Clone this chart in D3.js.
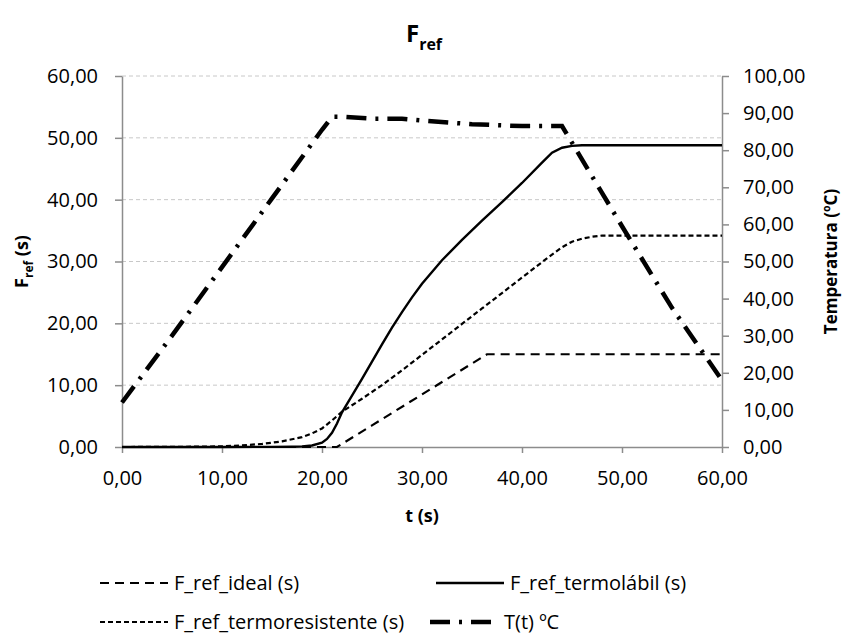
<!DOCTYPE html>
<html>
<head>
<meta charset="utf-8">
<script src="https://cdn.jsdelivr.net/npm/d3@7"></script>
<style>
  body { margin: 0; background: #fff; }
  text { font-family: "Open Sans", sans-serif; fill: #000; }
</style>
</head>
<body>
<div id="chart"></div>
<script>
// ##################################
//  DATA
// ##################################
const tIdeal = [0, 10, 20, 21.5, 25, 30, 36.5, 40, 50, 60]
const fIdeal = [0, 0, 0, 0, 3.5, 8.5, 15, 15, 15, 15]

const tLabil = [0, 5, 10, 15, 17, 18, 19, 20, 20.5, 21, 21.5, 22, 23, 24, 25, 26, 27, 28, 29, 30, 32, 34, 36, 38, 40, 42, 43, 44, 45, 46, 50, 55, 60]
const fLabil = [0, 0, 0, 0.02, 0.05, 0.1, 0.25, 0.7, 1.3, 2.3, 3.8, 5.6, 8.3, 11, 13.8, 16.6, 19.3, 21.8, 24.2, 26.4, 30.2, 33.5, 36.6, 39.6, 42.7, 46, 47.6, 48.4, 48.7, 48.8, 48.8, 48.8, 48.8]

const tResist = [0, 5, 10, 12, 14, 16, 18, 19, 20, 21, 22, 24, 26, 28, 30, 32, 34, 36, 38, 40, 42, 43, 44, 45, 46, 47, 48, 50, 55, 60]
const fResist = [0, 0.02, 0.1, 0.25, 0.5, 0.9, 1.6, 2.2, 3.0, 4.3, 5.7, 7.8, 10, 12.4, 14.9, 17.4, 19.9, 22.4, 24.9, 27.4, 29.9, 31.1, 32.3, 33.2, 33.7, 34, 34.2, 34.2, 34.2, 34.2]

const tTemp = [0, 5, 10, 15, 20, 21, 22, 25, 28, 30, 35, 40, 44, 50, 55, 60]
const temp = [12, 30, 48.5, 67, 85.5, 89, 89, 88.5, 88.5, 88, 87, 86.5, 86.5, 59.5, 37.5, 18]

const xTicks = [0, 10, 20, 30, 40, 50, 60]
const yTicks = [0, 10, 20, 30, 40, 50, 60]
const y2Ticks = [0, 10, 20, 30, 40, 50, 60, 70, 80, 90, 100]

const seriesNames = ["F_ref_ideal (s)", "F_ref_termolábil (s)", "F_ref_termoresistente (s)", "T(t) ºC"]

// ##################################
//  CONSTANTS
// ##################################
const W = 847, H = 641
const margin = { top: 76, right: 125, bottom: 194, left: 122 }
const plotW = W - margin.left - margin.right
const plotH = H - margin.top - margin.bottom
const axisColor = "#8c8c8c"
const tickFont = 20
const fmt = (d) => d3.format(".2f")(d).replace(".", ",")

const styles = [
  { width: 2.2, dash: "9,6" },
  { width: 2.4, dash: null },
  { width: 2.2, dash: "5,3" },
  { width: 4.5, dash: "20,9,3,9" },
]

const svg = d3.select("#chart").append("svg")
  .attr("width", W).attr("height", H)

const x = d3.scaleLinear().domain([0, 60]).range([margin.left, margin.left + plotW])
const y = d3.scaleLinear().domain([0, 60]).range([margin.top + plotH, margin.top])
const y2 = d3.scaleLinear().domain([0, 100]).range([margin.top + plotH, margin.top])

// gridlines
svg.append("g")
  .selectAll("line")
  .data(yTicks.filter((d) => d > 0))
  .join("line")
  .attr("x1", x(0)).attr("x2", x(60))
  .attr("y1", (d) => y(d)).attr("y2", (d) => y(d))
  .attr("stroke", "#c8c8c8").attr("stroke-width", 1)
  .attr("stroke-dasharray", "4,3")

// ##################################
//  AXES
// ##################################
const styleAxis = (g) => {
  g.selectAll(".domain").attr("stroke", axisColor).attr("stroke-width", 1.5)
  g.selectAll(".tick line").attr("stroke", axisColor).attr("stroke-width", 1.5)
  g.selectAll(".tick text").attr("font-size", tickFont).attr("font-family", "Open Sans")
}

svg.append("g")
  .attr("transform", `translate(0,${y(0)})`)
  .call(d3.axisBottom(x).tickValues(xTicks).tickFormat(fmt).tickSize(6).tickSizeOuter(0).tickPadding(18))
  .call(styleAxis)

svg.append("g")
  .attr("transform", `translate(${x(0)},0)`)
  .call(d3.axisLeft(y).tickValues(yTicks).tickFormat(fmt).tickSize(7).tickSizeOuter(0).tickPadding(17))
  .call(styleAxis)

svg.append("g")
  .attr("transform", `translate(${x(60)},0)`)
  .call(d3.axisRight(y2).tickValues(y2Ticks).tickFormat(fmt).tickSize(7).tickSizeOuter(0).tickPadding(14))
  .call(styleAxis)

// ##################################
//  LINES
// ##################################
const zipPts = (ts, vs) => ts.map((t, i) => [t, vs[i]])
const series = [
  { pts: zipPts(tIdeal, fIdeal), scale: y },
  { pts: zipPts(tLabil, fLabil), scale: y },
  { pts: zipPts(tResist, fResist), scale: y },
  { pts: zipPts(tTemp, temp), scale: y2 },
]

series.forEach((s, i) => {
  const line = d3.line().x((d) => x(d[0])).y((d) => s.scale(d[1]))
  svg.append("path")
    .datum(s.pts)
    .attr("d", line)
    .attr("fill", "none")
    .attr("stroke", "#000")
    .attr("stroke-width", styles[i].width)
    .attr("stroke-dasharray", styles[i].dash)
})

// ##################################
//  TITLES
// ##################################
const title = svg.append("text")
  .attr("x", 424).attr("y", 42)
  .attr("text-anchor", "middle")
  .attr("font-size", 24).attr("font-weight", "bold")
title.append("tspan").text("F")
title.append("tspan").attr("font-size", 16).attr("dy", 8).text("ref")

svg.append("text")
  .attr("x", x(30)).attr("y", 522)
  .attr("text-anchor", "middle")
  .attr("font-size", 18).attr("font-weight", "bold")
  .text("t (s)")

const yl = svg.append("text")
  .attr("transform", `translate(28,${y(30)}) rotate(-90)`)
  .attr("text-anchor", "middle")
  .attr("font-size", 18).attr("font-weight", "bold")
yl.append("tspan").text("F")
yl.append("tspan").attr("font-size", 12).attr("dy", 5).text("ref")
yl.append("tspan").attr("dy", -5).text(" (s)")

svg.append("text")
  .attr("transform", `translate(837,${y(30)}) rotate(-90)`)
  .attr("text-anchor", "middle")
  .attr("font-size", 17).attr("font-weight", "bold")
  .text("Temperatura (ºC)")

// ##################################
//  LEGEND
// ##################################
const legendPos = [
  [100, 583], [436, 583], [100, 622], [430, 622],
]
const legend = svg.append("g")
seriesNames.forEach((name, i) => {
  const [lx, ly] = legendPos[i]
  legend.append("line")
    .attr("x1", lx).attr("x2", lx + 68)
    .attr("y1", ly).attr("y2", ly)
    .attr("stroke", "#000")
    .attr("stroke-width", styles[i].width)
    .attr("stroke-dasharray", styles[i].dash)
  legend.append("text")
    .attr("x", lx + 74).attr("y", ly + 7)
    .attr("font-size", 20)
    .text(name)
})
</script>
</body>
</html>
